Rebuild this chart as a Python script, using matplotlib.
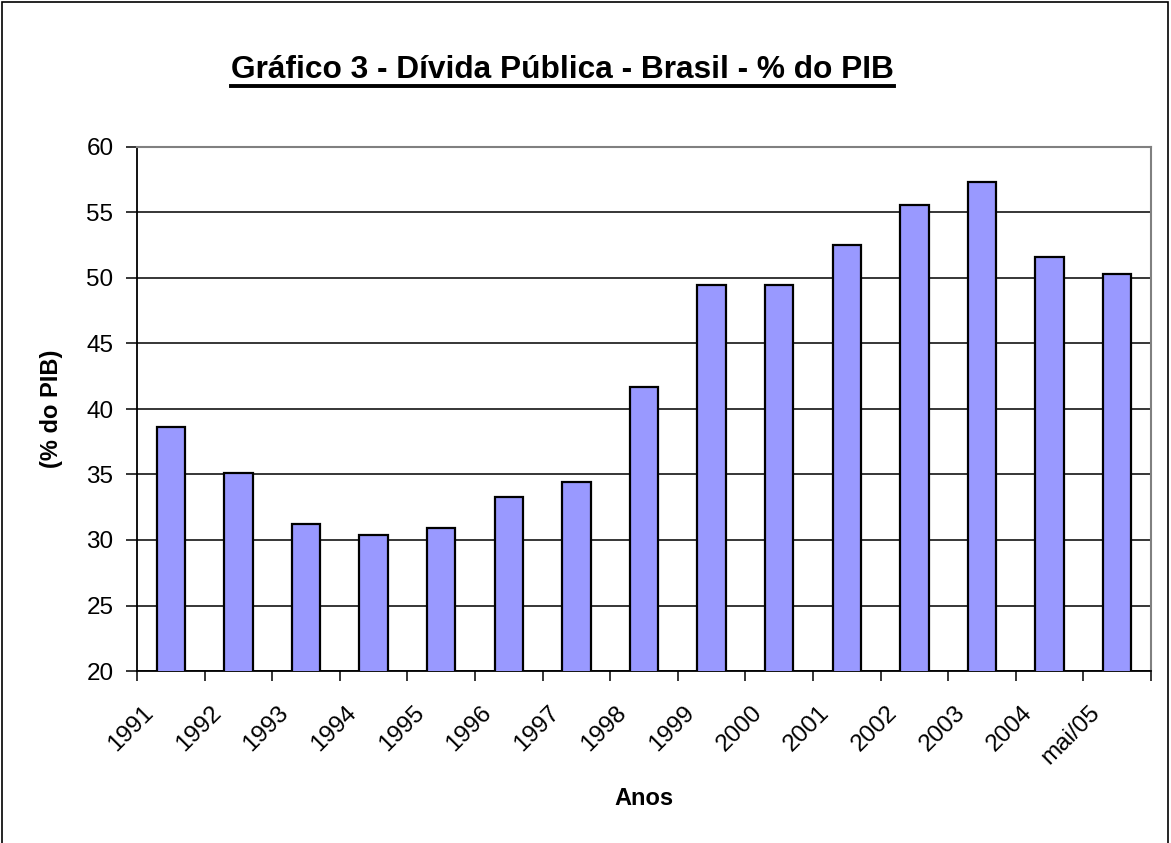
import numpy as np
import matplotlib.pyplot as plt
from matplotlib.lines import Line2D
from matplotlib.patches import Rectangle

plt.rcParams['font.family'] = ['Liberation Sans', 'DejaVu Sans']

# data
anos = ['1991', '1992', '1993', '1994', '1995', '1996', '1997', '1998',
        '1999', '2000', '2001', '2002', '2003', '2004', 'mai/05']
divida = [38.6, 35.1, 31.2, 30.4, 30.9, 33.3, 34.4, 41.7,
          49.5, 49.5, 52.5, 55.6, 57.3, 51.6, 50.3]
yticks = [20, 25, 30, 35, 40, 45, 50, 55, 60]

fig = plt.figure(figsize=(11.71, 8.43), dpi=100)
ax = fig.add_axes([137/1171, 172/843, 1014/1171, 524/843])

x = np.arange(len(anos))
ax.bar(x, divida, width=0.42, color='#9999FF', edgecolor='black',
       linewidth=1.6, zorder=3)

ax.set_ylim(20, 60)
ax.set_xlim(-0.5, len(anos) - 0.5)
ax.set_yticks(yticks)
ax.set_yticklabels([str(v) for v in yticks], fontsize=17.5)
ax.yaxis.grid(True, color='black', linewidth=1.1, zorder=0)
ax.tick_params(axis='y', length=8, width=1.1, pad=9)

# tick marks between categories, labels just right of each mark
ax.set_xticks(np.arange(len(anos) + 1) - 0.5, minor=True)
ax.tick_params(axis='x', which='minor', length=7, width=1.1)
ax.set_xticks(x - 0.42)
ax.set_xticklabels(anos, rotation=45, ha='right', rotation_mode='anchor',
                   fontsize=17.5)
ax.tick_params(axis='x', which='major', length=0, pad=22)

for s in ['top', 'right']:
    ax.spines[s].set_color('#808080')
    ax.spines[s].set_linewidth(1.5)
for s in ['left', 'bottom']:
    ax.spines[s].set_color('black')
    ax.spines[s].set_linewidth(1.3)

ax.set_ylabel('(% do PIB)', fontsize=17, fontweight='bold')
ax.yaxis.set_label_coords(-0.073, 0.5)
ax.set_xlabel('Anos', fontsize=17, fontweight='bold')
ax.xaxis.set_label_coords(0.5, -0.222)

title = fig.text(562.5/1171, 1 - 78/843,
                 'Gráfico 3 - Dívida Pública - Brasil - % do PIB',
                 ha='center', va='baseline', fontsize=22.8, fontweight='bold')

# underline the title
fig.canvas.draw()
bb = title.get_window_extent().transformed(fig.transFigure.inverted())
uy = 1 - 86/843
fig.add_artist(Line2D([bb.x0, bb.x1], [uy, uy], color='black', linewidth=2.8,
                      transform=fig.transFigure))

# chart frame
fig.add_artist(Rectangle((2/1171, -0.02), 1166/1171, 1.0 - 2/843 + 0.02,
                         fill=False, edgecolor='black', linewidth=1.2,
                         transform=fig.transFigure, clip_on=False))

fig.savefig('out.png', dpi=100)
